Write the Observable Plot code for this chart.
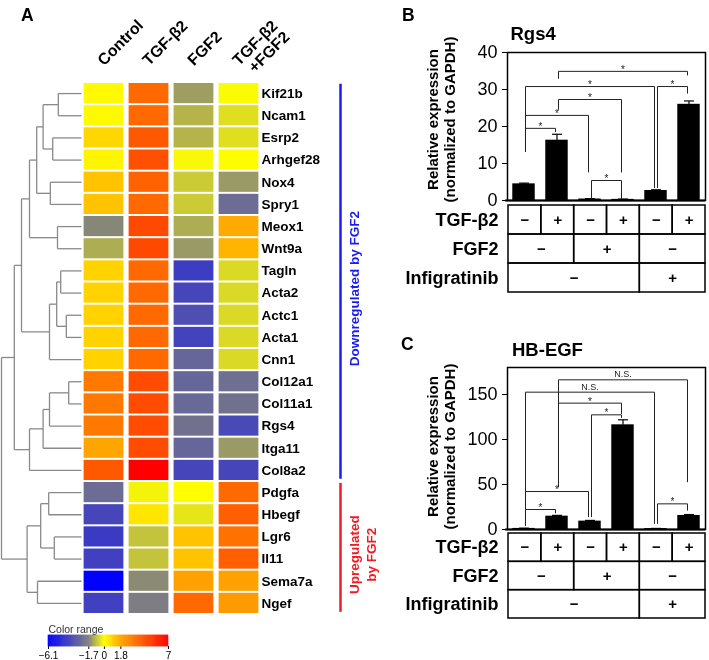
<!DOCTYPE html>
<html><head><meta charset="utf-8">
<script src="https://cdn.jsdelivr.net/npm/d3@7"></script>
<script src="https://cdn.jsdelivr.net/npm/@observablehq/plot@0.6"></script>
<style>
html,body{margin:0;padding:0;background:#fff;}
#fig{position:relative;width:709px;height:660px;overflow:hidden;background:#fff;}
#fig svg{position:absolute;max-width:none;will-change:transform;}
</style></head><body><div id="fig"></div>
<script>
// ---------------- DATA ----------------
const genes = ["Kif21b","Ncam1","Esrp2","Arhgef28","Nox4","Spry1","Meox1","Wnt9a","Tagln","Acta2","Actc1","Acta1","Cnn1","Col12a1","Col11a1","Rgs4","Itga11","Col8a2","Pdgfa","Hbegf","Lgr6","Il11","Sema7a","Ngef"];
const conditions = ["Control","TGF-β2","FGF2","TGF-β2\n+FGF2"];
const controlVals = [0.1, 0.1, 0.8, 0.2, 1.2, 1.2, -1.6, -1.1, 0.9, 0.9, 0.9, 0.9, 0.9, 3.2, 3.2, 3.2, 1.8, 4.2, -2.4, -3.7, -4.1, -3.9, -6.1, -3.9];
const tgfVals     = [3.7, 3.7, 4.2, 4.5, 3.9, 3.7, 4.7, 4.7, 3.7, 3.7, 3.7, 3.7, 3.7, 4.6, 4.6, 4.6, 4.6, 7.0, -0.15, 0.5, -0.8, -0.8, -1.55, -1.8];
const fgfVals     = [-1.3, -1.0, -1.0, -0.1, -0.7, -0.7, -1.1, -1.35, -4.0, -3.7, -3.4, -3.8, -2.6, -2.6, -2.5, -2.2, -2.6, -3.7, 0.05, -0.35, 1.2, 1.2, 1.9, 3.7];
const tgfFgfVals  = [-0.05, -0.43, -0.43, 0.05, -1.35, -2.4, 1.7, 1.5, -0.5, -0.5, -0.5, -0.5, -0.5, -2.3, -2.2, -3.6, -1.35, -3.7, 3.7, 4.0, 3.4, 4.0, 1.9, 2.1];

// hierarchical clustering merges (hclust style: negative = leaf index, positive = earlier merge), height
const merges = [
  [-1,-2,0.29],[-3,-4,0.36],[1,2,0.48],[-5,-6,0.39],[3,4,0.56],[-7,-8,0.30],[5,6,0.65],
  [-9,-10,0.26],[-11,-12,0.19],[8,9,0.31],[10,-13,0.40],[7,11,0.75],
  [-14,-15,0.16],[13,-16,0.40],[14,-17,0.48],[15,-18,0.65],[12,16,0.84],
  [-19,-20,0.41],[-21,-22,0.34],[18,19,0.51],[-23,-24,0.55],[20,21,0.68],[17,22,1.00]
];

const groupNames  = ["Downregulated by FGF2", "Upregulated\nby FGF2"];
const groupFirst  = ["Kif21b", "Pdgfa"];
const groupLast   = ["Col8a2", "Ngef"];
const groupColors = ["#1c1cf2", "#ee1c24"];

const colorStops  = [-6.1, -1.7, 0, 1.8, 7];
const colorRange  = ["#0000ff", "#808080", "#ffff00", "#ffa500", "#ff0000"];
const legendTitle = "Color range";

// Panel B: Rgs4
const rgs4Title = "Rgs4";
const rgs4Mean = [4.5, 16.3, 0.4, 0.3, 2.7, 26.0];
const rgs4Err  = [0.2, 1.6, 0.1, 0.1, 0.2, 0.9];
const rgs4Ticks = [0, 10, 20, 30, 40];
// [barA, barB, bracket top, leg end at A, leg end at B, label]
const rgs4Brackets = [
  [0,1,19.5,13.1,18.5,"*"],[0,2,23.0,13.1,7.6,"*"],[1,3,27.3,24.5,7.6,"*"],
  [0,4,30.8,13.1,3.4,"*"],[4,5,30.8,3.4,28.9,"*"],[1,5,34.9,32.9,33.8,"*"],[2,3,5.4,0.5,0.5,"*"]
];

// Panel C: HB-EGF
const hbegfTitle = "HB-EGF";
const hbegfMean = [1.2, 14.8, 9.3, 116.3, 1.0, 15.6];
const hbegfErr  = [0.3, 0.9, 0.8, 5.6, 0.2, 1.0];
const hbegfTicks = [0, 50, 100, 150];
const hbegfBrackets = [
  [0,1,22.2,4.4,18.1,"*"],[0,2,42.2,4.4,13.7,"*"],[2,3,127.4,13.7,124,"*"],
  [1,3,140.4,47,128.5,"*"],[0,4,152.6,4.4,6.3,"N.S."],[1,5,166.3,47,52.6,"N.S."],[4,5,28.5,6.3,21,"*"]
];

const yLabel = "Relative expression\n(normalized to GAPDH)";
const tableRows = ["TGF-β2", "FGF2", "Infigratinib"];
const tgfRow   = ["−","+","−","+","−","+"];
const fgfRow   = ["−","−","+","+","−","−"];
const infigRow = ["−","−","−","−","+","+"];

// ---------------- DRAWING ----------------
const FONT = '"Liberation Sans", Arial, Helvetica, sans-serif';
const fig = document.getElementById("fig");
function place(svg, left, top) { svg.style.left = left + "px"; svg.style.top = top + "px"; fig.appendChild(svg); }
const baseStyle = (fs) => ({background: "transparent", fontFamily: FONT, fontSize: fs + "px", overflow: "visible", color: "black"});

const columns = [controlVals, tgfVals, fgfVals, tgfFgfVals];
const cells = [];
genes.forEach((g, i) => columns.forEach((vals, j) => cells.push({gene: g, row: i, cond: conditions[j], v: vals[i]})));
const colorScale = {type: "linear", domain: colorStops, range: colorRange, interpolate: "rgb", clamp: true};

const PANEL_H = 660, TOP = 82, BOTTOM = 46;

// Heatmap
const heat = Plot.plot({
  width: 370, height: PANEL_H, marginLeft: 81, marginRight: 109, marginTop: TOP, marginBottom: BOTTOM,
  x: {domain: conditions, padding: 0, axis: null},
  y: {domain: [0, genes.length], reverse: true, axis: null},
  color: colorScale,
  style: baseStyle(12),
  marks: [
    Plot.barY(cells, {x: "cond", y1: "row", y2: d => d.row + 1, fill: "v", insetLeft: 2.6, insetRight: 2.6, insetTop: 1, insetBottom: 1}),
    Plot.text(genes, {y: (d, i) => i + 0.5, frameAnchor: "right", textAnchor: "start", dx: 0, fontSize: 13.5, fontWeight: "bold", fill: "black"}),
    Plot.text(conditions, {x: d => d, text: d => d.split("\n")[0], frameAnchor: "top", rotate: -45, textAnchor: "start", lineAnchor: "bottom", dx: 0, dy: -16, fontSize: 16, fontWeight: "bold", fill: "black"}),
    Plot.text(conditions.filter(d => d.includes("\n")), {x: d => d, text: d => d.split("\n")[1], frameAnchor: "top", rotate: -45, textAnchor: "start", lineAnchor: "bottom", dx: 16, dy: -9, fontSize: 16, fontWeight: "bold", fill: "black"}),
    Plot.text(["A"], {frameAnchor: "top-left", textAnchor: "start", lineAnchor: "bottom", dx: -60.5, dy: -62, fontSize: 17.5, fontWeight: "bold", fill: "black"})
  ]
});
place(heat, 0, 0);

// Dendrogram
function dendroSegments(m) {
  const nodes = [];
  const get = id => id < 0 ? {h: 0, y: -id - 1 + 0.5} : nodes[id - 1];
  const segs = [];
  m.forEach(([a, b, h]) => {
    const A = get(a), B = get(b);
    segs.push({x1: h, y1: A.y, x2: h, y2: B.y});
    segs.push({x1: A.h, y1: A.y, x2: h, y2: A.y});
    segs.push({x1: B.h, y1: B.y, x2: h, y2: B.y});
    nodes.push({h, y: (A.y + B.y) / 2});
  });
  return segs;
}
const dendro = Plot.plot({
  width: 82, height: PANEL_H, marginLeft: 1, marginRight: 1, marginTop: TOP, marginBottom: BOTTOM,
  x: {domain: [1, 0], axis: null},
  y: {domain: [0, genes.length], reverse: true, axis: null},
  style: baseStyle(10),
  marks: [Plot.link(dendroSegments(merges), {x1: "x1", y1: "y1", x2: "x2", y2: "y2", stroke: "#8a8a8a", strokeWidth: 1.3})]
});
place(dendro, 0, 0);

// Group brackets
const groups = groupNames.map((name, k) => ({name, a: genes.indexOf(groupFirst[k]), b: genes.indexOf(groupLast[k]), color: groupColors[k]}));
const grp = Plot.plot({
  width: 40, height: PANEL_H, marginLeft: 10, marginRight: 10, marginTop: TOP, marginBottom: BOTTOM,
  x: {domain: [0, 1], axis: null},
  y: {domain: [0, genes.length], reverse: true, axis: null},
  style: baseStyle(12),
  marks: [
    Plot.link(groups, {x1: d => 0, x2: d => 0, y1: d => d.a + 0.06, y2: d => d.b + 0.88, stroke: "color", strokeWidth: 2.5}),
    Plot.text(groups, {y: d => (d.a + d.b + 1) / 2 + 0.3, text: "name", frameAnchor: "left", rotate: -90, textAnchor: "middle", lineAnchor: "top", lineHeight: 1.25, dx: 6.5, fill: "color", fontSize: 13.5, fontWeight: "bold"})
  ]
});
place(grp, 330, 0);

// Color legend
const rampStep = 0.1;
const ramp = d3.range(colorStops[0], colorStops[colorStops.length - 1], rampStep);
const legend = Plot.plot({
  width: 200, height: 48, marginLeft: 48, marginRight: 32, marginTop: 23, marginBottom: 14,
  x: {domain: [colorStops[0], colorStops[colorStops.length - 1]], ticks: colorStops, tickSize: 3, tickPadding: 2, tickFormat: d => String(d).replace("-", "−"), label: null},
  y: {axis: null},
  color: colorScale,
  style: baseStyle(10),
  marks: [
    Plot.rect(ramp, {x1: d => d, x2: d => Math.min(d + rampStep, colorStops[colorStops.length - 1]), fill: d => d, stroke: d => d, strokeWidth: 0.6}),
    Plot.text([legendTitle], {frameAnchor: "top-left", textAnchor: "start", lineAnchor: "bottom", dy: -3, fontSize: 10.5, fill: "#333"})
  ]
});
place(legend, 0, 612);

// Bar panels
function barPanel({title, letter, mean, err, brackets, ticks, yMax, height, marginTop, labelDy, letterDx, letterDy, titleDx, titleDy}) {
  const bars = mean.map((m, i) => ({i, m, e: err[i]}));
  const segs = [], labels = [];
  brackets.forEach(([a, b, top, ya, yb, lab]) => {
    const xa = a + 0.5 + 0.045, xb = b + 0.5 - 0.045;
    segs.push({x1: xa, y1: top, x2: xb, y2: top}, {x1: xa, y1: top, x2: xa, y2: ya}, {x1: xb, y1: top, x2: xb, y2: yb});
    labels.push({x: (xa + xb) / 2, y: top, t: lab});
  });
  return Plot.plot({
    width: 339, height, marginLeft: 137, marginRight: 4, marginTop, marginBottom: 5,
    x: {domain: [0, mean.length], axis: null},
    y: {domain: [0, yMax], ticks, tickSize: 5, tickPadding: 5, label: null},
    style: baseStyle(18),
    marks: [
      Plot.rect(bars, {x1: d => d.i + 0.16, x2: d => d.i + 0.84, y1: d => 0, y2: "m", fill: "black"}),
      Plot.link(bars, {x1: d => d.i + 0.5, x2: d => d.i + 0.5, y1: "m", y2: d => d.m + d.e, stroke: "black", strokeWidth: 1.2}),
      Plot.link(bars, {x1: d => d.i + 0.35, x2: d => d.i + 0.65, y1: d => d.m + d.e, y2: d => d.m + d.e, stroke: "black", strokeWidth: 1.2}),
      Plot.link(segs, {x1: "x1", y1: "y1", x2: "x2", y2: "y2", stroke: "#222", strokeWidth: 1}),
      Plot.text(labels.filter(d => d.t === "*"), {x: "x", y: "y", text: "t", lineAnchor: "bottom", dy: 1.5, fontSize: 10, fill: "#222"}),
      Plot.text(labels.filter(d => d.t !== "*"), {x: "x", y: "y", text: "t", lineAnchor: "bottom", dy: -2.5, fontSize: 9, fill: "#222"}),
      Plot.frame({stroke: "black", strokeWidth: 1.5}),
      Plot.ruleY([0], {stroke: "black", strokeWidth: 2, insetLeft: -2}),
      Plot.text([title], {frameAnchor: "top-left", textAnchor: "start", lineAnchor: "bottom", dx: titleDx, dy: titleDy, fontSize: 18.5, fontWeight: "bold", fill: "black"}),
      Plot.text([letter], {frameAnchor: "top-left", textAnchor: "start", lineAnchor: "bottom", dx: letterDx, dy: letterDy, fontSize: 17.5, fontWeight: "bold", fill: "black"}),
      Plot.text([yLabel], {frameAnchor: "left", rotate: -90, textAnchor: "middle", lineHeight: 1.17, dx: -66.5, dy: labelDy, fontSize: 15, fontWeight: "bold", fill: "black"})
    ]
  });
}
function tablePanel(height) {
  const rowsVals = [tgfRow, fgfRow, infigRow];
  const tcells = [];
  rowsVals.forEach((vals, r) => {
    let s = 0;
    for (let i = 1; i <= vals.length; i++) {
      if (i === vals.length || vals[i] !== vals[s]) { tcells.push({r, s, e: i, v: vals[s]}); s = i; }
    }
  });
  return Plot.plot({
    width: 339, height, marginLeft: 138, marginRight: 4, marginTop: 5, marginBottom: 4,
    x: {domain: [0, tgfRow.length], axis: null},
    y: {domain: [0, tableRows.length], reverse: true, axis: null},
    style: baseStyle(14),
    marks: [
      Plot.rect(tcells, {x1: "s", x2: "e", y1: "r", y2: d => d.r + 1, fill: "none", stroke: "black", strokeWidth: 1.5}),
      Plot.text(tcells, {x: d => (d.s + d.e) / 2, y: d => d.r + 0.5, text: "v", fontSize: 15, fontWeight: "bold", fill: "black"}),
      Plot.text(tableRows, {y: (d, i) => i + 0.5, frameAnchor: "left", textAnchor: "end", dx: -10, fontSize: 18, fontWeight: "bold", fill: "black"})
    ]
  });
}

place(barPanel({title: rgs4Title, letter: "B", mean: rgs4Mean, err: rgs4Err, brackets: rgs4Brackets, ticks: rgs4Ticks, yMax: 40, height: 205, marginTop: 52, labelDy: -7, letterDx: -105.5, letterDy: -32, titleDx: 3, titleDy: -12.7}), 370, 0);
place(tablePanel(96), 370, 200);
place(barPanel({title: hbegfTitle, letter: "C", mean: hbegfMean, err: hbegfErr, brackets: hbegfBrackets, ticks: hbegfTicks, yMax: 180, height: 204, marginTop: 37, labelDy: -2, letterDx: -106.5, letterDy: -17.7, titleDx: 4.5, titleDy: -12}), 370, 330);
place(tablePanel(94), 370, 528);
</script></body></html>
